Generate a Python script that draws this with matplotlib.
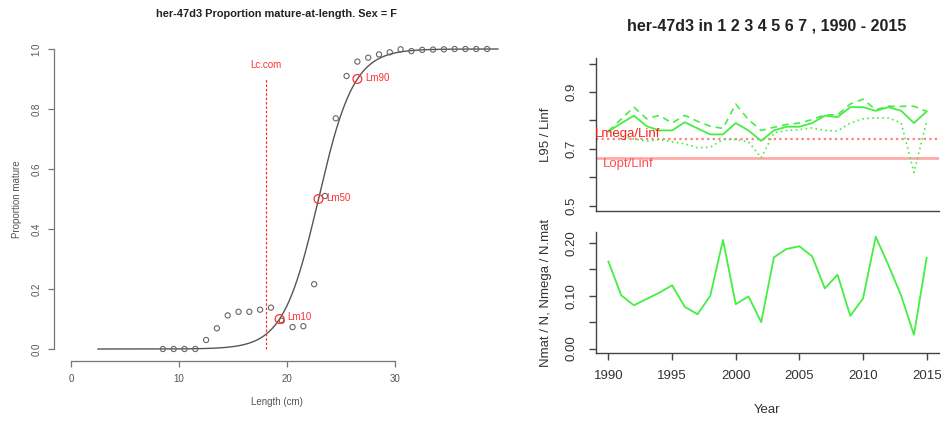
import numpy as np
import matplotlib
matplotlib.use("Agg")
import matplotlib.pyplot as plt

plt.rcParams['font.family'] = ['Liberation Sans', 'DejaVu Sans']

# ---- maturity-at-length data (females) ----
length_cm = [8.5, 9.5, 10.5, 11.5, 12.5, 13.5, 14.5, 15.5, 16.5, 17.5, 18.5,
             19.5, 20.5, 21.5, 22.5, 23.5, 24.5, 25.5, 26.5, 27.5, 28.5,
             29.5, 30.5, 31.5, 32.5, 33.5, 34.5, 35.5, 36.5, 37.5, 38.5]
prop_mature = [0.0, 0.0, 0.0, 0.0, 0.03, 0.069, 0.112, 0.124, 0.124, 0.131, 0.138,
               0.094, 0.073, 0.076, 0.216, 0.51, 0.769, 0.91, 0.958, 0.971, 0.982,
               0.989, 0.999, 0.993, 0.997, 0.998, 0.999, 1.0, 1.0, 1.0, 1.0]
lm10, lm50, lm90 = 19.3, 22.9, 26.5
lc_com = 18.0
ogive_range = (2.5, 39.5)

# ---- indicator time series ----
years = list(range(1990, 2016))
l95_linf_mean = [0.762, 0.790, 0.817, 0.780, 0.765, 0.765, 0.794, 0.772, 0.751, 0.751,
                 0.791, 0.765, 0.728, 0.765, 0.778, 0.778, 0.791, 0.817, 0.812, 0.847,
                 0.847, 0.834, 0.847, 0.834, 0.791, 0.832]
l95_linf_hi = [0.762, 0.805, 0.847, 0.806, 0.818, 0.791, 0.818, 0.797, 0.780, 0.772,
               0.858, 0.803, 0.765, 0.776, 0.786, 0.791, 0.803, 0.820, 0.820, 0.858,
               0.875, 0.838, 0.850, 0.850, 0.850, 0.832]
l95_linf_lo = [0.762, 0.745, 0.735, 0.727, 0.733, 0.725, 0.718, 0.704, 0.706, 0.733,
               0.733, 0.725, 0.669, 0.756, 0.765, 0.768, 0.774, 0.765, 0.763, 0.791,
               0.806, 0.809, 0.809, 0.791, 0.617, 0.797]
lmega_linf = 0.735
lopt_linf = 0.668
nmat_n = [0.165, 0.101, 0.082, 0.094, 0.106, 0.120, 0.079, 0.065, 0.100, 0.206,
          0.084, 0.099, 0.050, 0.173, 0.189, 0.194, 0.175, 0.114, 0.140, 0.062,
          0.095, 0.212, 0.158, 0.100, 0.026, 0.172]

W, H = 946, 424
fig = plt.figure(figsize=(W / 100, H / 100), dpi=100)


def box(l, t, r, b):
    return [l / W, (H - b) / H, (r - l) / W, (b - t) / H]


red = '#ff3030'
grey_txt = '#555555'

# ---------------- left: maturity ogive ----------------
ax = fig.add_axes(box(54, 37, 513, 361))
ax.set_xlim(-1.574, 40.9)
ax.set_ylim(-0.04, 1.04)
for s in ('top', 'right'):
    ax.spines[s].set_visible(False)
for s in ('left', 'bottom'):
    ax.spines[s].set_color('#777777')
    ax.spines[s].set_linewidth(0.9)
ax.spines['left'].set_bounds(0, 1)
ax.spines['bottom'].set_bounds(0, 30)
ax.set_xticks([0, 10, 20, 30])
ax.set_yticks([0.0, 0.2, 0.4, 0.6, 0.8, 1.0])
ax.set_yticklabels(['0.0', '0.2', '0.4', '0.6', '0.8', '1.0'])
ax.tick_params(axis='both', length=4, width=0.9, color='#777777',
               labelsize=7, labelcolor=grey_txt, pad=5)
ax.tick_params(axis='y', labelrotation=90)
for t in ax.get_yticklabels():
    t.set_va('center')

slope = np.log(9) / (lm90 - lm50)
lgrid = np.linspace(ogive_range[0], ogive_range[1], 300)
ax.plot(lgrid, 1 / (1 + np.exp(-slope * (lgrid - lm50))), color='#555555', lw=1.0)
ax.scatter(length_cm, prop_mature, s=14, facecolors='none', edgecolors='#666666',
           linewidths=0.8, zorder=3)
ax.plot([lc_com, lc_com], [0, 0.9], color=red, lw=0.9, ls=(0, (2, 1.5)))
ax.text(lc_com, 0.947, 'Lc.com', color=red, fontsize=7, ha='center', va='center')
for lm, p, lab in ((lm10, 0.1, 'Lm10'), (lm50, 0.5, 'Lm50'), (lm90, 0.9, 'Lm90')):
    ax.scatter([lm], [p], s=40, facecolors='none', edgecolors=red, linewidths=0.9, zorder=4)
    ax.text(lm + 0.75, p + 0.005, lab, color=red, fontsize=7, ha='left', va='center')

fig.text(276 / W, 1 - 14 / H, 'her-47d3 Proportion mature-at-length. Sex = F',
         fontsize=7.9, fontweight='bold', ha='center', va='center', color='#222222')
fig.text(277 / W, 1 - 402 / H, 'Length (cm)', fontsize=7, ha='center', va='center',
         color=grey_txt)
fig.text(17 / W, 1 - 199 / H, 'Proportion mature', fontsize=7, rotation=90,
         ha='center', va='center', color=grey_txt)

# ---------------- right: indicators ----------------
green = '#44ee44'
axc = '#444444'
txt = '#333333'

ax2 = fig.add_axes(box(595.7, 58, 939.4, 211.4))
ax3 = fig.add_axes(box(595.7, 232.3, 939.4, 353))
for a in (ax2, ax3):
    for s in ('top', 'right'):
        a.spines[s].set_visible(False)
    for s in ('left', 'bottom'):
        a.spines[s].set_color(axc)
        a.spines[s].set_linewidth(1.0)
    a.set_xlim(1989, 2016)
    a.tick_params(axis='both', length=5, width=1.0, color=axc, labelsize=9.5,
                  labelcolor=txt)
    a.tick_params(axis='y', labelrotation=90, pad=8)

ax2.set_ylim(0.48, 1.02)
ax2.set_yticks([0.5, 0.6, 0.7, 0.8, 0.9, 1.0])
ax2.set_yticklabels(['0.5', '', '0.7', '', '0.9', ''])
ax2.set_xticks([])
ax2.axhline(lopt_linf, color='#ffaaaa', lw=2.0)
ax2.axhline(lmega_linf, color='#ff8080', lw=1.6, ls=(0, (1, 1.5)))
ax2.plot(years, l95_linf_mean, color=green, lw=1.3)
ax2.plot(years, l95_linf_hi, color=green, lw=1.2, ls=(0, (4, 3)))
ax2.plot(years, l95_linf_lo, color=green, lw=1.2, ls=(0, (1, 2)))
ax2.text(1988.95, 0.751, 'Lmega/Linf', color='#ff2020', fontsize=9.5, ha='left', va='center')
ax2.text(1989.6, 0.648, 'Lopt/Linf', color='#ff5050', fontsize=9.5, ha='left', va='center')

ax3.set_ylim(-0.0085, 0.2205)
ax3.set_yticks([0.0, 0.05, 0.10, 0.15, 0.20])
ax3.set_yticklabels(['0.00', '', '0.10', '', '0.20'])
ax3.set_xticks([1990, 1995, 2000, 2005, 2010, 2015])
ax3.tick_params(axis='x', pad=7)
ax3.plot(years, nmat_n, color=green, lw=1.3)

for a in (ax2, ax3):
    for t in a.get_yticklabels():
        t.set_va('center')

fig.text(767 / W, 1 - 26 / H, 'her-47d3 in 1 2 3 4 5 6 7 , 1990 - 2015',
         fontsize=11.5, fontweight='bold', ha='center', va='center', color='#222222')
fig.text(767 / W, 1 - 410 / H, 'Year', fontsize=9.5, ha='center', va='center', color=txt)
fig.text(546 / W, 1 - 134.7 / H, 'L95 / Linf', fontsize=9.5, rotation=90,
         ha='center', va='center', color=txt)
fig.text(546 / W, 1 - 292.7 / H, 'Nmat / N, Nmega / N.mat', fontsize=9.5, rotation=90,
         ha='center', va='center', color=txt)

fig.savefig('out.png', dpi=100)
